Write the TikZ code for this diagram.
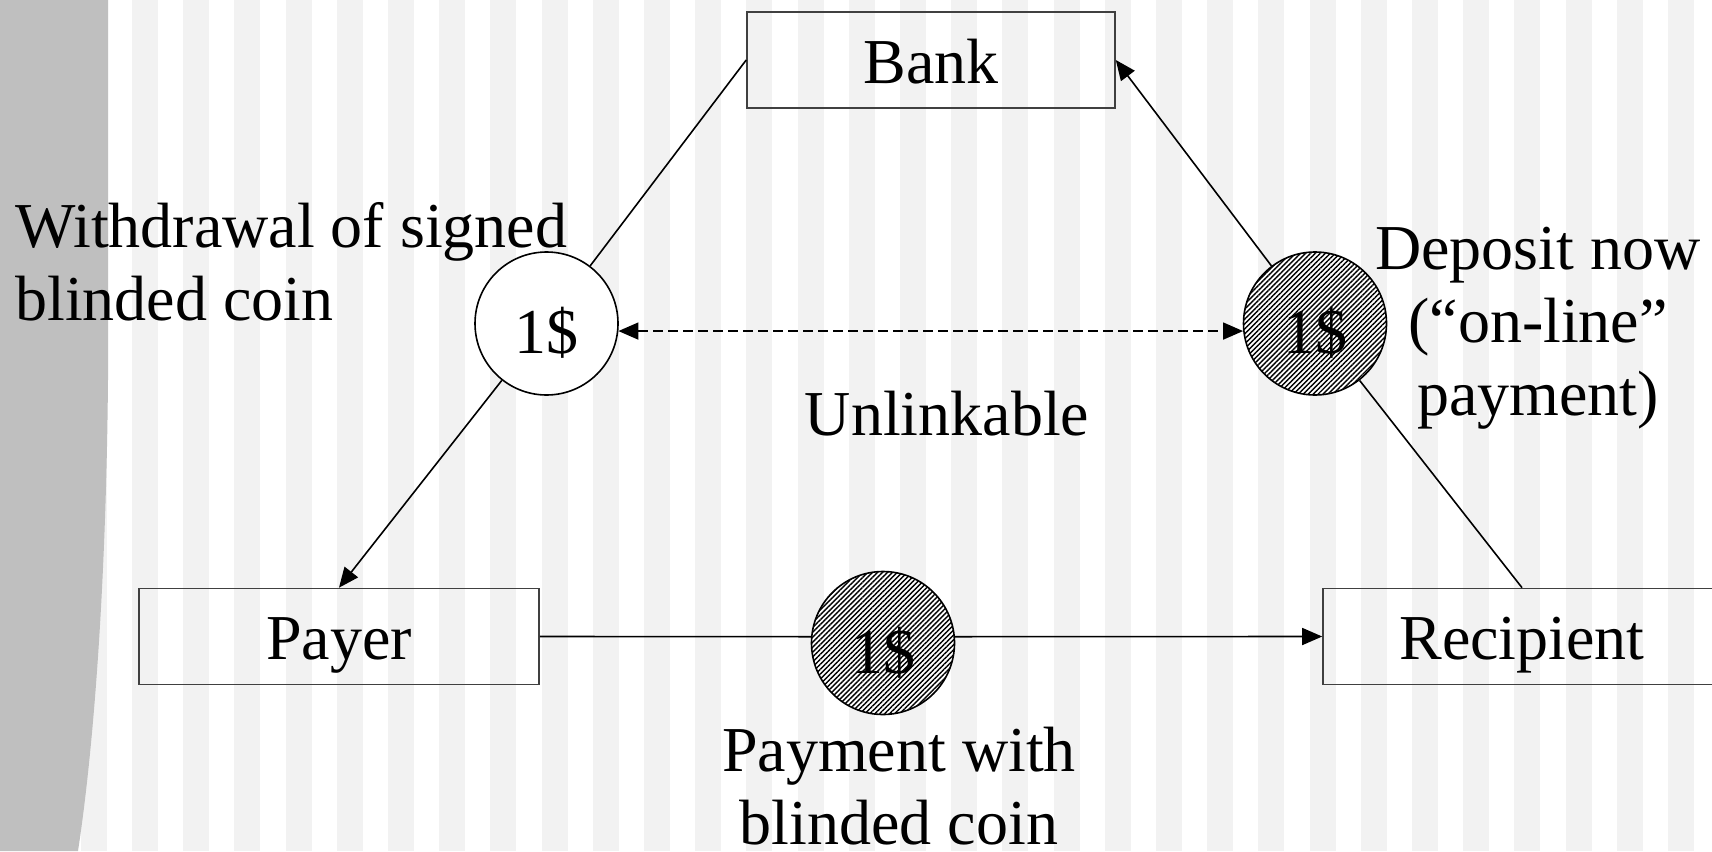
\documentclass[tikz,border=0pt]{standalone}
\usepackage{fontspec}
\setmainfont{Liberation Serif}
\usetikzlibrary{arrows.meta,patterns.meta}

\begin{document}
\begin{tikzpicture}[x=0.5pt,y=-0.5pt]
    \def\ptfont{\fontsize{32pt}{36.5pt}\selectfont}
    \tikzstyle{party}=[draw=black!75,line width=0.8pt,minimum width=184pt,minimum height=48pt,text height=23pt,text depth=0pt,font=\ptfont]
    \tikzstyle{coin}=[circle,draw=black,line width=0.8pt,minimum size=71.5pt,inner sep=0pt,text height=30pt,text depth=0pt,font=\ptfont]
    \tikzstyle{spent}=[fill=white,postaction={pattern={Lines[angle=45,distance=1.75pt,line width=0.7pt]}}]
    \tikzstyle{note}=[inner sep=0pt,font=\ptfont]
    \tikzstyle{plain}=[draw=black,line width=0.8pt]
    \tikzstyle{fwd}=[plain,-{Triangle[length=10pt,width=8.5pt]}]

    \def\ty{60}
    \def\my{323.5}
    \def\by{636.5}

    % striped slide background with the grey strip on the left
    \fill[white] (0,0) rectangle (1712,851);
    \foreach \i in {-1,...,30}
        \fill[black!5] (132+51.2*\i,0) rectangle ++(26,851);
    \fill[black!25] (0,0) -- (108,0) -- (108,380) .. controls (106,600) and (92,760) .. (78,851) -- (0,851) -- cycle;
    \useasboundingbox (0,0) rectangle (1712,851);

    \node[party] (bank) at (931,\ty) {Bank};
    \node[party,minimum width=200pt] (payer) at (339,\by) {Payer};
    \node[party,minimum width=199pt] (recipient) at (1522,\by) {Recipient};

    \node[coin,fill=white] (wcoin) at (546.5,\my) {1\$};
    \node[coin,spent] (dcoin) at (1315,\my) {1\$};
    \node[coin,spent] (pcoin) at (883,643) {1\$};

    \node[note,anchor=base west,align=left] (wlabel) at (15,320) {Withdrawal of signed\\blinded coin};
    \node[note,anchor=base,align=center] (dlabel) at (1538,415) {Deposit now\\(“on-line”\\payment)};
    \node[note,anchor=base] (ulabel) at (947,435) {Unlinkable};
    \node[note,anchor=base,align=center] (plabel) at (899,844) {Payment with\\blinded coin};

   \draw [plain] (bank.west) -- (wcoin);
   \draw [fwd] (wcoin) -- (payer.north);
   \draw [plain] (recipient.north) -- (dcoin);
   \draw [fwd] (dcoin) -- (bank.east);
   \draw [plain] (payer.east) -- (pcoin.175);
   \draw [fwd] (pcoin.5) -- (recipient.west);

   \draw [plain,dash pattern=on 5pt off 2.5pt,{Triangle[length=10pt,width=8.5pt]}-{Triangle[length=10pt,width=8.5pt]}] (wcoin.-6) -- (dcoin.186);

\end{tikzpicture}
\end{document}
